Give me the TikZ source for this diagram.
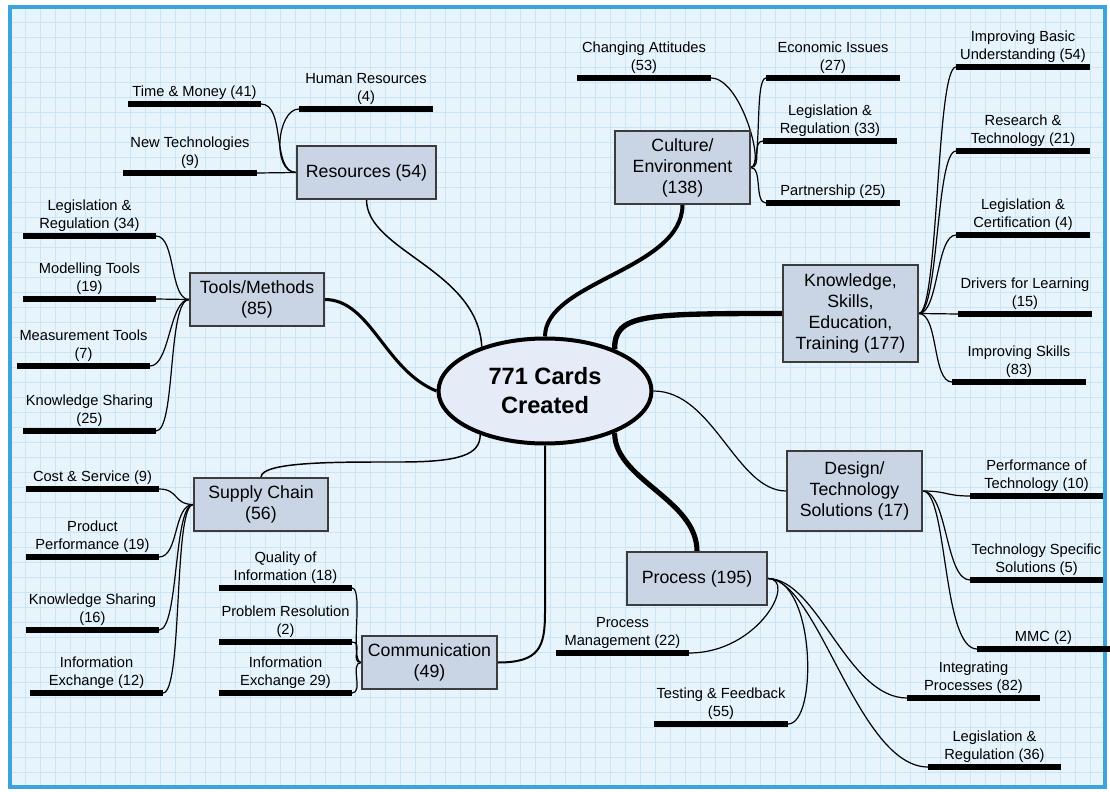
\documentclass[tikz,border=0pt]{standalone}
\usepackage{fontspec}
\setmainfont{Liberation Sans}
\usetikzlibrary{shapes.geometric}
\definecolor{bgblue}{HTML}{E8F4FC}
\definecolor{gridblue}{HTML}{CBE5F6}
\definecolor{frameblue}{HTML}{3BA4DF}
\definecolor{boxfill}{HTML}{C9D5E5}
\definecolor{boxline}{HTML}{3C3C3C}
\definecolor{ellfill}{HTML}{E6ECF7}
\pgfdeclarelayer{bglayer}
\pgfdeclarelayer{linelayer}
\pgfsetlayers{bglayer,linelayer,main}
\tikzset{
  box/.style 2 args={draw=boxline, line width=1.1pt, fill=boxfill, inner sep=0pt, align=center,
    minimum width=#1*0.75pt, minimum height=#2*0.75pt, font=\fontsize{13.3}{15.75}\selectfont},
  hub/.style={ellipse, draw=black, line width=3pt, fill=ellfill, inner sep=0pt, align=center,
    minimum width=213*0.75pt, minimum height=105*0.75pt, font=\fontsize{17.7}{21.75}\selectfont\bfseries},
  leafbar/.style={line width=3.8pt},
  leaflab/.style={anchor=south, inner sep=0pt, align=center, font=\fontsize{11}{13.5}\selectfont},
  twig/.style={line width=0.9pt},
}
\newcommand\leaf[5]{%
  \coordinate (#1-L) at (#2,#4);
  \coordinate (#1-R) at (#3,#4);
  \draw[leafbar] (#1-L) -- (#1-R);
  \node[leaflab] (#1) at ({(#2+#3)/2},{#4-4.5}) {#5};
}
\begin{document}
\begin{tikzpicture}[x=0.75pt,y=-0.75pt]
\useasboundingbox (0,0) rectangle (1110,792);
\begin{pgfonlayer}{bglayer}
\fill[white] (0,0) rectangle (1110,792);
\fill[bgblue] (9.5,7.5) rectangle (1105,787);
\foreach \x in {25,40,...,1095} \draw[gridblue, line width=0.35pt] (\x,7.5) -- (\x,787);
\foreach \y in {22,37,...,782} \draw[gridblue, line width=0.35pt] (9.5,\y) -- (1105,\y);
\draw[frameblue, line width=3pt] (9.5,7.5) rectangle (1105,787);
\end{pgfonlayer}

% hub and branch boxes
\node[hub] (c) at (545,391) {771 Cards\\Created};
\node[box={139}{53}] (res) at (366.5,172.5) {Resources (54)};
\node[box={134}{53}] (tools) at (257,299.5) {Tools/Methods\\(85)};
\node[box={134}{53}] (sc) at (261,504.5) {Supply Chain\\(56)};
\node[box={135}{53}] (com) at (429.5,662.5) {Communication\\(49)};
\node[box={140}{53}] (pr) at (697,578.5) {Process (195)};
\node[box={135}{80}] (ds) at (854.5,491) {Design/\\Technology\\Solutions (17)};
\node[box={135}{97}] (kn) at (850.5,313.5) {Knowledge,\\Skills,\\Education,\\Training (177)};
\node[box={135}{73}] (cu) at (682.5,167.5) {Culture/\\Environment\\(138)};

% leaves
\leaf{tm}{128}{261}{104}{Time \& Money (41)}
\leaf{nt}{123}{257}{173}{New Technologies\\(9)}
\leaf{hr}{299}{433}{109}{Human Resources\\(4)}
\leaf{lr34}{23}{156}{236}{Legislation \&\\Regulation (34)}
\leaf{mt}{23}{156}{299}{Modelling Tools\\(19)}
\leaf{ms}{17}{150}{366}{Measurement Tools\\(7)}
\leaf{ks25}{23}{156}{431}{Knowledge Sharing\\(25)}
\leaf{cs}{26}{159}{489}{Cost \& Service (9)}
\leaf{pp}{26}{159}{557}{Product\\Performance (19)}
\leaf{ks16}{26}{159}{630}{Knowledge Sharing\\(16)}
\leaf{ie12}{30}{163}{693}{Information\\Exchange (12)}
\leaf{qi}{219}{352}{588}{Quality of\\Information (18)}
\leaf{prr}{219}{352}{642}{Problem Resolution\\(2)}
\leaf{ie29}{219}{352}{693}{Information\\Exchange 29)}
\leaf{pm}{556}{689}{653}{Process\\Management (22)}
\leaf{tf}{654}{788}{724}{Testing \& Feedback\\(55)}
\leaf{ip}{907}{1040}{698}{Integrating\\Processes (82)}
\leaf{lr36}{928}{1061}{767}{Legislation \&\\Regulation (36)}
\leaf{pt}{970}{1103}{496}{Performance of\\Technology (10)}
\leaf{tss}{970}{1103}{580}{Technology Specific\\Solutions (5)}
\leaf{mmc}{977}{1110}{649}{MMC (2)}
\leaf{ibu}{956}{1090}{67}{Improving Basic\\Understanding (54)}
\leaf{rt}{956}{1090}{151}{Research \&\\Technology (21)}
\leaf{lc}{956}{1090}{235}{Legislation \&\\Certification (4)}
\leaf{dl}{958}{1092}{314}{Drivers for Learning\\(15)}
\leaf{is}{952}{1086}{382}{Improving Skills\\(83)}
\leaf{ca}{577}{711}{78}{Changing Attitudes\\(53)}
\leaf{ei}{766}{900}{78}{Economic Issues\\(27)}
\leaf{lr33}{763}{897}{141}{Legislation \&\\Regulation (33)}
\leaf{pa}{766}{900}{203}{Partnership (25)}

\coordinate (sbend) at (400,462);
\coordinate (cbend) at (545,612);

\begin{pgfonlayer}{linelayer}
% main branches
\draw[line width=1.1pt] (res.south) .. controls +(0,51) and +(-4,-77) .. (c.145);
\draw[line width=2.3pt] (tools.east) .. controls +(46,0) and +(-52,-21) .. (c.west);
\draw[line width=1.1pt] (sc.north) .. controls +(0,-16) and +(-60,0) .. (sbend) .. controls +(60,0) and +(0,20) .. (c.214);
\draw[line width=1.5pt] (com.east) .. controls +(42,0) and +(0,35) .. (cbend) -- (c.south);
\draw[line width=3pt] (c.north) .. controls +(0,-55) and +(0,65) .. (cu.south);
\draw[line width=4pt] (kn.west) .. controls +(-140,0) and +(0,-35) .. (c.31);
\draw[line width=3.8pt] (c.-31) .. controls +(0,47) and +(0,-52) .. (pr.north);
\draw[line width=0.9pt] (c.east) .. controls +(60,0) and +(-50,0) .. (ds.west);

% resources
\draw[twig] (res.west) .. controls +(-25,0) and +(25,0) .. (tm-R);
\draw[twig] (res.west) -- (nt-R);
\draw[twig] (res.west) .. controls +(-25,0) and +(-22,0) .. (hr-L);
% tools
\draw[twig] (tools.west) .. controls +(-20,0) and +(20,0) .. (lr34-R);
\draw[twig] (tools.west) -- (mt-R);
\draw[twig] (tools.west) .. controls +(-20,0) and +(20,0) .. (ms-R);
\draw[twig] (tools.west) .. controls +(-22,0) and +(20,0) .. (ks25-R);
% supply chain
\draw[twig] (sc.west) .. controls +(-20,0) and +(20,0) .. (cs-R);
\draw[twig] (sc.west) .. controls +(-20,0) and +(20,0) .. (pp-R);
\draw[twig] (sc.west) .. controls +(-20,0) and +(20,0) .. (ks16-R);
\draw[twig] (sc.west) .. controls +(-20,0) and +(20,0) .. (ie12-R);
% communication
\draw[twig] (com.west) .. controls +(-12,0) and +(12,0) .. (qi-R);
\draw[twig] (com.west) .. controls +(-12,0) and +(12,0) .. (prr-R);
\draw[twig] (com.west) .. controls +(-12,0) and +(12,0) .. (ie29-R);
% process
\draw[twig] (pr.east) .. controls +(30,0) and +(70,0) .. (pm-R);
\draw[twig] (pr.east) .. controls +(48,0) and +(30,0) .. (tf-R);
\draw[twig] (pr.east) .. controls +(50,0) and +(-60,0) .. (ip-L);
\draw[twig] (pr.east) .. controls +(50,0) and +(-70,0) .. (lr36-L);
% design
\draw[twig] (ds.east) .. controls +(25,0) and +(-25,0) .. (pt-L);
\draw[twig] (ds.east) .. controls +(25,0) and +(-25,0) .. (tss-L);
\draw[twig] (ds.east) .. controls +(25,0) and +(-35,0) .. (mmc-L);
% knowledge
\draw[twig] (kn.east) .. controls +(20,0) and +(-20,0) .. (ibu-L);
\draw[twig] (kn.east) .. controls +(20,0) and +(-20,0) .. (rt-L);
\draw[twig] (kn.east) .. controls +(20,0) and +(-20,0) .. (lc-L);
\draw[twig] (kn.east) -- (dl-L);
\draw[twig] (kn.east) .. controls +(20,0) and +(-20,0) .. (is-L);
% culture
\draw[twig] (cu.east) .. controls +(15,0) and +(30,0) .. (ca-R);
\draw[twig] (cu.east) .. controls +(12,0) and +(-12,0) .. (ei-L);
\draw[twig] (cu.east) .. controls +(12,0) and +(-12,0) .. (lr33-L);
\draw[twig] (cu.east) .. controls +(12,0) and +(-12,0) .. (pa-L);
\end{pgfonlayer}
\end{tikzpicture}
\end{document}
